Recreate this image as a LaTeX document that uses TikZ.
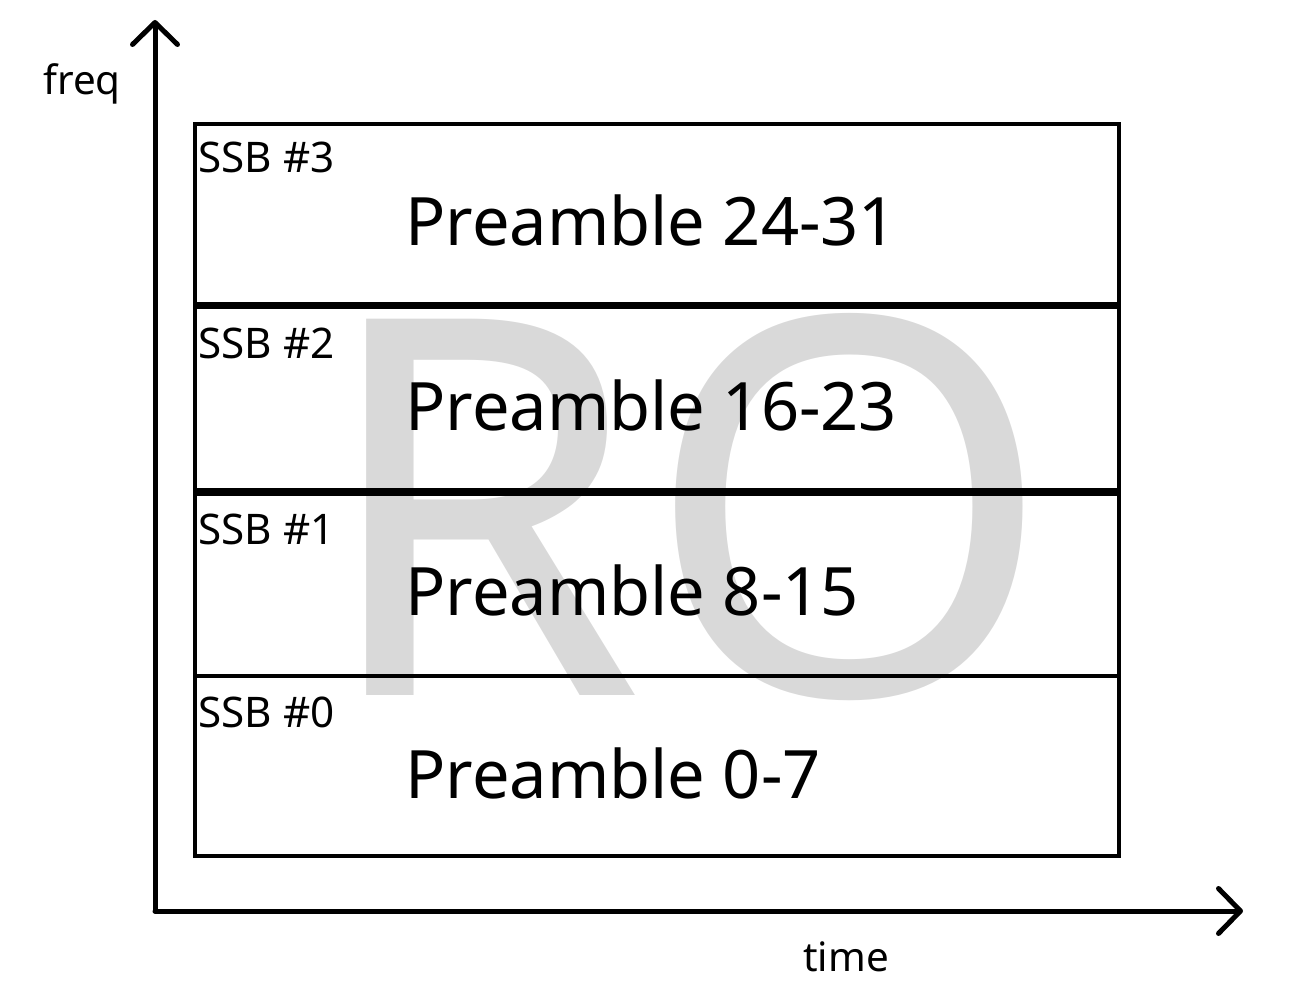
\documentclass[tikz,border=0pt]{standalone}
\usepackage{fontspec}
\setmainfont{Noto Sans}
\usetikzlibrary{arrows.meta,positioning}
\definecolor{wmgrey}{HTML}{D9D9D9}

\begin{document}
\begin{tikzpicture}[x=0.02cm,y=-0.02cm,
	axis/.style={line width=0.1cm, line cap=round, -{Straight Barb[length=0.44cm,width=0.9cm,line cap=round,line join=round]}},
	ssbbox/.style={draw, line width=0.08cm, rectangle, inner sep=0pt, minimum width=18.48cm, minimum height=3.6cm},
	pre/.style={anchor=base west, inner sep=0pt, font=\fontsize{38}{46}\selectfont},
	ssb/.style={anchor=base west, inner sep=0pt, font=\fontsize{24}{29}\selectfont},
	lbl/.style={anchor=base west, inner sep=0pt, font=\fontsize{23}{28}\selectfont}]
	\useasboundingbox (0,0) rectangle (1315,1003);
	% watermark
	\node[anchor=base west, inner sep=0pt, text=wmgrey, font=\fontsize{300}{300}\selectfont] (ro) at (315,695) {RO};
	% boxes
	\node[ssbbox, minimum height=3.6cm] (b3) at (657,214) {};
	\node[ssbbox, minimum height=3.66cm] (b2) at (657,398.5) {};
	\node[ssbbox, minimum height=3.64cm] (b1) at (657,585) {};
	\node[ssbbox, minimum height=3.6cm] (b0) at (657,766) {};
	% labels
	\node[ssb] (s3) at (198,173) {SSB \#3};
	\node[ssb] (s2) at (198,358) {SSB \#2};
	\node[ssb] (s1) at (198,544) {SSB \#1};
	\node[ssb] (s0) at (198,727) {SSB \#0};
	\node[pre] (p3) at (405,246) {Preamble 24-31};
	\node[pre] (p2) at (405,431) {Preamble 16-23};
	\node[pre] (p1) at (405,615) {Preamble 8-15};
	\node[pre] (p0) at (405,798) {Preamble 0-7};
	% axes
	\coordinate (o) at (155,911);
	\coordinate (ytip) at (155,20);
	\coordinate (xtip) at (1243,911);
	\draw[axis] (o) -- (ytip);
	\draw[axis] (o) -- (xtip);
	\node[lbl] (freq) at (43,95) {freq};
	\node[lbl] (time) at (803,971) {time};
\end{tikzpicture}
\end{document}
